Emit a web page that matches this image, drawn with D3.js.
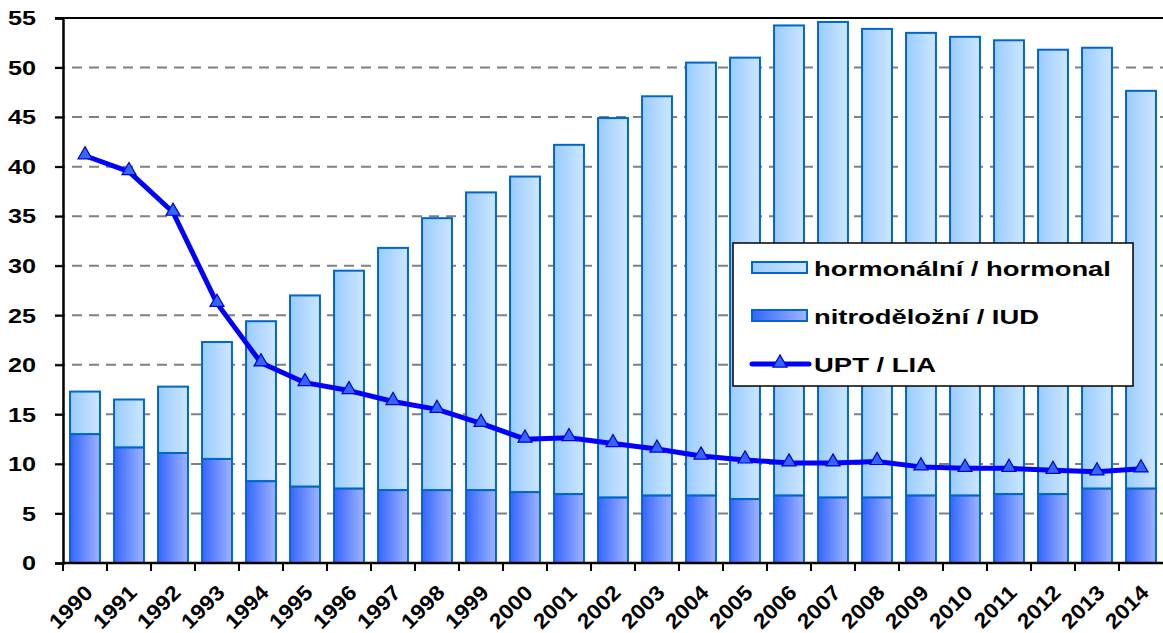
<!DOCTYPE html>
<html>
<head>
<meta charset="utf-8">
<script src="https://cdn.jsdelivr.net/npm/d3@7"></script>
<style>
body { margin: 0; background: #fff; }
text { font-family: Arial, "Liberation Sans", sans-serif; font-weight: bold; fill: #000; }
</style>
</head>
<body>
<svg class="chart" width="1163" height="633"></svg>
<script>
var years = ['1990','1991','1992','1993','1994','1995','1996','1997','1998','1999','2000','2001','2002','2003','2004','2005','2006','2007','2008','2009','2010','2011','2012','2013','2014'];
var iud = [13.0,11.65,11.1,10.5,8.25,7.7,7.5,7.35,7.35,7.35,7.15,6.95,6.6,6.8,6.8,6.45,6.8,6.6,6.6,6.8,6.8,6.95,6.95,7.5,7.5];
var hormonal = [4.3,4.85,6.7,11.8,16.15,19.3,22.0,24.45,27.45,30.05,31.85,35.25,38.3,40.3,43.7,44.55,47.45,48.0,47.3,46.7,46.3,45.8,44.85,44.5,40.15];
var upt = [41.1,39.5,35.4,26.2,20.2,18.2,17.4,16.3,15.5,14.1,12.5,12.65,12.05,11.5,10.8,10.4,10.1,10.1,10.25,9.7,9.55,9.55,9.35,9.2,9.5];
var yTicks = [0,5,10,15,20,25,30,35,40,45,50,55];

var plotL = 63, plotR = 1163, plotT = 18, plotB = 563;
var stretch = 1.2; // the reference text is a bit wide

var svg = d3.select('.chart');

var defs = svg.append('defs');
var g1 = defs.append('linearGradient').attr('id','gradH');
g1.append('stop').attr('offset','0%').attr('stop-color','#99ccff');
g1.append('stop').attr('offset','100%').attr('stop-color','#cce6ff');
var g2 = defs.append('linearGradient').attr('id','gradI');
g2.append('stop').attr('offset','0%').attr('stop-color','#3366ff');
g2.append('stop').attr('offset','100%').attr('stop-color','#a0b4ff');

var x = d3.scaleBand().domain(years).range([plotL,plotR]).paddingInner(0.32).paddingOuter(0.16);
var xb = d3.scaleBand().domain(years).range([plotL,plotR]);
var y = d3.scaleLinear().domain([0,55]).range([plotB,plotT]);

// grid
svg.append('g').selectAll('line')
	.data(yTicks.filter(d=>d>0 && d<55))
	.enter().append('line')
	.attr('x1',plotL-8).attr('x2',plotR)
	.attr('y1',d=>y(d)).attr('y2',d=>y(d))
	.attr('stroke','#808080').attr('stroke-width',2)
	.attr('stroke-dasharray','10,7');

svg.append('line')
	.attr('x1',plotL-8).attr('x2',plotR)
	.attr('y1',y(55)).attr('y2',y(55))
	.attr('stroke','#000').attr('stroke-width',2);

// bars
var data = years.map((yr,i)=>({year:yr, iud:iud[i], hormonal:hormonal[i], upt:upt[i]}));
var bars = svg.append('g').selectAll('g').data(data).enter().append('g');

bars.append('rect')
	.attr('x',d=>x(d.year))
	.attr('width',x.bandwidth())
	.attr('y',d=>y(d.iud+d.hormonal))
	.attr('height',d=>y(d.iud)-y(d.iud+d.hormonal))
	.attr('fill','url(#gradH)')
	.attr('stroke','#0066cc').attr('stroke-width',2);

bars.append('rect')
	.attr('x',d=>x(d.year))
	.attr('width',x.bandwidth())
	.attr('y',d=>y(d.iud))
	.attr('height',d=>y(0)-y(d.iud))
	.attr('fill','url(#gradI)')
	.attr('stroke','#0066cc').attr('stroke-width',2);

// axes
var yAxis = svg.append('g')
	.attr('transform','translate('+plotL+',0)')
	.call(d3.axisLeft(y).tickValues(yTicks).tickSize(8));
yAxis.select('.domain').attr('stroke','#000').attr('stroke-width',2.5);
yAxis.selectAll('.tick line').attr('stroke','#000').attr('stroke-width',2);
yAxis.selectAll('text')
	.attr('x',0)
	.attr('transform','translate(-27,0) scale('+stretch+',1)')
	.attr('font-size',21)
	.style('font-family','Arial, "Liberation Sans", sans-serif').style('font-weight','bold');

var xAxis = svg.append('g')
	.attr('transform','translate(0,'+plotB+')');
xAxis.append('line').attr('x1',plotL).attr('x2',plotR).attr('stroke','#000').attr('stroke-width',2.5);
xAxis.selectAll('.tk').data(years).enter().append('line')
	.attr('x1',d=>xb(d)).attr('x2',d=>xb(d))
	.attr('y1',0).attr('y2',8)
	.attr('stroke','#000').attr('stroke-width',2);
xAxis.selectAll('.lbl').data(years).enter().append('text')
	.attr('text-anchor','end')
	.attr('font-size',21)
	.attr('transform',d=>'translate('+(xb(d)+xb.bandwidth()/2+9)+',31) rotate(-45) scale(1.1,1)')
	.text(d=>d);

// line
var line = d3.line().x(d=>x(d.year)+x.bandwidth()/2).y(d=>y(d.upt));
svg.append('path')
	.datum(data)
	.attr('d',line)
	.attr('fill','none')
	.attr('stroke','#0000ff')
	.attr('stroke-width',5)
	.attr('stroke-linejoin','round');

var tri = d3.symbol().type(d3.symbolTriangle).size(85);
svg.append('g').selectAll('path').data(data).enter().append('path')
	.attr('d',tri)
	.attr('transform',d=>'translate('+(x(d.year)+x.bandwidth()/2)+','+(y(d.upt)-1)+')')
	.attr('fill','#3366ff').attr('stroke','#0000cc').attr('stroke-width',1.2);

// legend
var legend = svg.append('g').attr('transform','translate(733,243)');
legend.append('rect')
	.attr('width',400).attr('height',143)
	.attr('fill','#fff').attr('stroke','#000').attr('stroke-width',1.5);

var items = [
	{label:'hormonální / hormonal', fill:'url(#gradH)', len:297},
	{label:'nitroděložní / IUD', fill:'url(#gradI)', len:225},
	{label:'UPT / LIA', len:122}
];
var rows = legend.selectAll('.item').data(items).enter().append('g')
	.attr('transform',(d,i)=>'translate(0,'+(25+i*48)+')');
rows.filter(d=>d.fill).append('rect')
	.attr('x',19).attr('y',-6).attr('width',55).attr('height',11)
	.attr('fill',d=>d.fill).attr('stroke','#0066cc').attr('stroke-width',2);
var lineRow = rows.filter(d=>!d.fill);
lineRow.append('line')
	.attr('x1',19).attr('x2',76).attr('y1',0).attr('y2',0)
	.attr('stroke','#0000ff').attr('stroke-width',5).attr('stroke-linecap','round');
lineRow.append('path')
	.attr('d',tri)
	.attr('transform','translate(47,-1)')
	.attr('fill','#3366ff').attr('stroke','#0000cc').attr('stroke-width',1.2);
rows.append('text')
	.attr('x',81).attr('y',8)
	.attr('font-size',21)
	.attr('textLength',d=>d.len)
	.attr('lengthAdjust','spacingAndGlyphs')
	.text(d=>d.label);
</script>
</body>
</html>
